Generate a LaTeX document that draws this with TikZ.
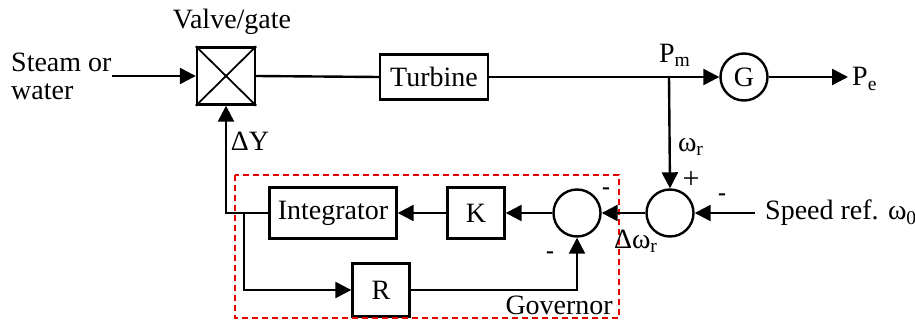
\documentclass[tikz,border=0pt]{standalone}
\usepackage{fontspec}
\setmainfont{Liberation Serif}
\usetikzlibrary{arrows.meta}
\begin{document}
\begin{tikzpicture}[x=0.5pt,y=-0.5pt,
  font=\fontsize{14}{16}\selectfont,
  line width=1.2pt,
  arr/.style={-{Triangle[length=8pt,width=8pt]}},
  block/.style={draw,rectangle,inner sep=0pt},
  sumnode/.style={draw,circle,minimum size=23.5pt,inner sep=0pt},
  lbl/.style={inner sep=0pt},
  sgn/.style={inner sep=0pt,font=\fontsize{12}{14}\selectfont\bfseries},
  plussgn/.style={inner sep=0pt,font=\fontsize{15}{16}\selectfont},
  govbox/.style={draw=red!90!black,line width=0.8pt,dash pattern=on 3pt off 2pt}]
\useasboundingbox (0,0) rectangle (915,320);

% blocks
\node[block,minimum width=29pt,minimum height=28.5pt] (valve) at (226,76) {};
\draw[line width=0.9pt] (valve.north west) -- (valve.south east)
                        (valve.north east) -- (valve.south west);
\node[block,minimum width=54pt,minimum height=22.5pt] (turbine) at (434,77) {Turbine};
\node[sumnode] (gen) at (744,77) {G};
\node[sumnode] (sum2) at (670,213) {};
\node[sumnode] (sum1) at (577,213) {};
\node[block,minimum width=28.5pt,minimum height=25.5pt] (K) at (476,213) {K};
\node[block,minimum width=63.5pt,minimum height=25.5pt] (integ) at (333,213) {Integrator};
\node[block,minimum width=28.5pt,minimum height=26.5pt] (R) at (381,290) {R};

% governor boundary
\draw[govbox] (235,175) rectangle (619,318);

% free ends and branch points
\coordinate (steamin) at (112,76);
\coordinate (pm) at (669,77);
\coordinate (peout) at (848,77);
\coordinate (refin) at (755,213);
\coordinate (split) at (244,213);

% connectors
\draw[arr] (steamin) -- (valve.west);
\draw (valve.east) -- (turbine.west);
\draw (turbine.east) -- (pm);
\draw[arr] (pm) -- (gen.west);
\draw[arr] (gen.east) -- (peout);
\draw[arr] (pm) -- (sum2.north);
\draw[arr] (refin) -- (sum2.east);
\draw[arr] (sum2.west) -- (sum1.east);
\draw[arr] (sum1.west) -- (K.east);
\draw[arr] (K.west) -- (integ.east);
\draw[arr] (integ.west) -| (valve.south);
\draw[arr] (split) |- (R.west);
\draw[arr] (R.east) -| (sum1.south);

% labels
\node[lbl,anchor=west] (steam) at (10,62) {Steam or};
\node[lbl,anchor=west] (water) at (10,92) {water};
\node[lbl] (valvelbl) at (232,22) {Valve/gate};
\node[lbl] (dy) at (250,141) {ΔY};
\node[lbl] (pmlbl) at (675,55) {P\textsubscript{m}};
\node[lbl,anchor=west] (pelbl) at (851,79) {P\textsubscript{e}};
\node[lbl] (wr) at (691,147) {ω\textsubscript{r}};
\node[plussgn] (plus) at (691,180) {+};
\node[sgn] (minus2) at (722,197) {-};
\node[lbl,anchor=west] (ref) at (764,213) {Speed ref. ω\textsubscript{0}};
\node[lbl] (dwr) at (636,241) {Δω\textsubscript{r}};
\node[sgn] (minus1a) at (606,191) {-};
\node[sgn] (minus1b) at (550,255) {-};
\node[lbl,anchor=east] (gov) at (614,305) {Governor};
\end{tikzpicture}
\end{document}
